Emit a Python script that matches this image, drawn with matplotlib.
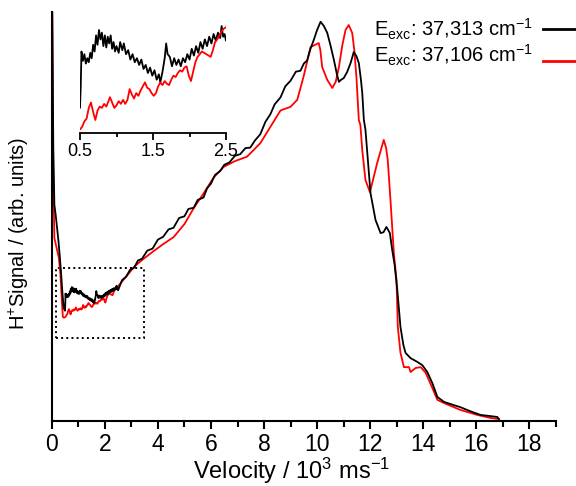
import matplotlib.pyplot as plt
from matplotlib.lines import Line2D
from matplotlib.patches import Rectangle
from matplotlib.ticker import MultipleLocator

plt.rcParams['font.family'] = ['Liberation Sans', 'DejaVu Sans']
plt.rcParams['mathtext.default'] = 'regular'

# black trace, E_exc = 37,313 cm-1
v_black = [0.02, 0.06, 0.10, 0.15, 0.20, 0.25, 0.30, 0.35, 0.40, 0.45,
           0.50, 0.51, 0.52, 0.54, 0.56, 0.58, 0.60, 0.62, 0.64, 0.66,
           0.68, 0.70, 0.72, 0.74, 0.76, 0.78, 0.80, 0.82, 0.84, 0.86,
           0.88, 0.90, 0.92, 0.94, 0.96, 0.98, 1.00, 1.03, 1.05, 1.08,
           1.10, 1.13, 1.16, 1.19, 1.22, 1.25, 1.28, 1.31, 1.34, 1.37,
           1.40, 1.43, 1.46, 1.49, 1.52, 1.55, 1.58, 1.60, 1.63, 1.66,
           1.68, 1.70, 1.73, 1.76, 1.79, 1.82, 1.85, 1.88, 1.91, 1.94,
           1.97, 2.00, 2.03, 2.06, 2.09, 2.12, 2.15, 2.18, 2.21, 2.24,
           2.27, 2.30, 2.33, 2.36, 2.39, 2.42, 2.44, 2.46, 2.48, 2.50,
           2.65, 2.8, 2.95, 3.1, 3.25, 3.4, 3.6, 3.8, 4.0, 4.2,
           4.4, 4.59, 4.8, 5.0, 5.15, 5.35, 5.5, 5.72, 5.85, 6.0,
           6.15, 6.35, 6.5, 6.7, 6.9, 7.1, 7.3, 7.48, 7.65, 7.86,
           8.05, 8.24, 8.4, 8.62, 8.8, 9.0, 9.2, 9.37, 9.5, 9.62,
           9.75, 9.87, 10.0, 10.13, 10.25, 10.38, 10.5, 10.63, 10.75, 10.82,
           10.9, 11.0, 11.13, 11.26, 11.38, 11.48, 11.57, 11.65, 11.7, 11.76,
           11.82, 11.89, 12.01, 12.2, 12.39, 12.5, 12.61, 12.74, 12.83, 12.92,
           13.02, 13.14, 13.25, 13.33, 13.52, 13.77, 13.96, 14.15, 14.34, 14.53,
           14.78, 15.15, 15.4, 15.66, 15.9, 16.16, 16.5, 16.79, 16.85]
s_black = [100.0, 66.2, 52.8, 50.3, 47.2, 44.2, 40.5, 36.4, 31.5, 27.6,
           26.9, 28.5, 31.1, 30.4, 30.9, 30.2, 30.6, 30.3, 31.0, 30.6,
           31.6, 31.1, 32.3, 31.6, 32.7, 32.0, 32.5, 31.5, 32.3, 31.4,
           32.2, 31.7, 32.3, 31.3, 31.8, 31.1, 31.5, 31.0, 31.8, 31.2,
           31.7, 30.9, 31.2, 30.5, 30.9, 30.3, 30.6, 30.1, 30.5, 29.8,
           30.1, 29.5, 29.9, 29.3, 29.7, 29.0, 29.4, 28.8, 29.6, 30.6,
           31.7, 30.9, 30.7, 30.0, 30.6, 30.1, 30.5, 30.0, 30.6, 30.3,
           30.9, 30.5, 31.3, 30.8, 31.5, 31.0, 31.8, 31.3, 32.0, 31.5,
           32.2, 31.7, 32.4, 31.9, 32.5, 32.1, 33.0, 32.2, 32.4, 31.9,
           34.4, 35.2, 36.9, 37.4, 39.2, 39.6, 41.6, 42.1, 44.3, 45.0,
           46.8, 47.2, 49.6, 50.0, 51.8, 52.1, 54.0, 54.6, 56.8, 58.0,
           60.1, 61.1, 62.6, 63.2, 64.8, 65.2, 66.7, 66.8, 68.5, 70.1,
           73.1, 75.0, 77.4, 79.1, 81.8, 83.2, 85.4, 85.6, 87.4, 88.1,
           91.0, 93.1, 95.6, 97.6, 96.6, 94.9, 91.9, 88.3, 84.6, 82.9,
           83.4, 83.8, 85.3, 87.5, 90.2, 89.2, 87.5, 83.4, 80.2, 73.6,
           71.2, 65.5, 55.7, 49.1, 45.9, 46.1, 47.4, 45.9, 41.7, 38.1,
           32.0, 22.9, 18.5, 16.6, 15.3, 14.4, 13.6, 11.9, 9.2, 5.8,
           4.6, 3.8, 3.3, 2.6, 2.0, 1.4, 1.15, 0.9, 0.4]

# red trace, E_exc = 37,106 cm-1
v_red = [0.02, 0.06, 0.10, 0.15, 0.20, 0.27, 0.33, 0.38, 0.42, 0.46,
         0.50, 0.53, 0.56, 0.59, 0.62, 0.65, 0.68, 0.71, 0.74, 0.77,
         0.80, 0.83, 0.86, 0.89, 0.91, 0.94, 0.97, 1.00, 1.03, 1.06,
         1.09, 1.12, 1.15, 1.18, 1.21, 1.24, 1.27, 1.30, 1.33, 1.36,
         1.39, 1.42, 1.45, 1.48, 1.51, 1.54, 1.57, 1.60, 1.63, 1.66,
         1.69, 1.72, 1.75, 1.78, 1.81, 1.84, 1.87, 1.90, 1.93, 1.96,
         1.99, 2.02, 2.05, 2.08, 2.11, 2.14, 2.17, 2.20, 2.23, 2.26,
         2.29, 2.32, 2.35, 2.38, 2.41, 2.44, 2.47, 2.50,
         2.8, 3.1, 3.4, 3.8, 4.2, 4.59, 5.0, 5.35, 5.72, 6.1,
         6.48, 6.9, 7.36, 7.86, 8.24, 8.62, 9.0, 9.25, 9.49, 9.75,
         10.06, 10.12, 10.19, 10.38, 10.57, 10.7, 10.82, 10.95, 11.07, 11.19,
         11.32, 11.4, 11.48, 11.57, 11.63, 11.7, 11.82, 11.99, 12.26, 12.51,
         12.6, 12.66, 12.77, 12.89, 12.99, 13.04, 13.14, 13.27, 13.46, 13.52,
         13.71, 13.9, 14.09, 14.34, 14.53, 14.78, 15.41, 16.04, 16.54, 16.85]
s_red = [100.0, 58.9, 44.7, 43.2, 41.8, 39.8, 35.6, 29.5, 25.4, 25.2,
         25.3, 25.5, 25.9, 26.1, 26.9, 27.3, 26.6, 26.0, 26.7, 27.0,
         26.9, 27.2, 27.0, 27.4, 27.7, 27.3, 26.9, 27.1, 27.4, 27.2,
         27.5, 27.2, 27.5, 28.3, 27.9, 27.6, 28.0, 27.8, 28.2, 28.5,
         28.8, 28.4, 28.3, 28.0, 27.8, 28.0, 28.5, 28.8, 28.6, 28.9,
         28.7, 28.6, 29.0, 29.3, 29.2, 29.5, 29.7, 29.6, 29.9, 30.0,
         29.3, 28.9, 29.6, 30.3, 30.7, 30.9, 31.1, 31.0, 30.9, 30.8,
         30.7, 31.2, 31.8, 32.0, 32.3, 32.6, 32.8, 32.9,
         35.2, 37.6, 39.3, 41.3, 43.2, 44.9, 48.1, 52.0, 55.6, 59.5,
         62.1, 63.5, 64.6, 67.9, 71.9, 75.9, 76.8, 78.5, 84.2, 91.4,
         92.4, 90.7, 86.5, 83.4, 81.4, 82.9, 86.5, 91.9, 95.6, 96.8,
         94.9, 90.7, 84.1, 73.6, 72.3, 66.2, 58.9, 55.9, 63.0, 68.7,
         66.7, 63.8, 53.3, 41.0, 34.4, 22.9, 16.6, 13.1, 13.1, 11.9,
         12.9, 13.1, 11.7, 8.0, 5.1, 4.3, 2.6, 1.4, 0.66, 0.4]

labels = ['E$_{exc}$: 37,313 cm$^{-1}$', 'E$_{exc}$: 37,106 cm$^{-1}$']
colors = ['black', 'red']

fig = plt.figure(figsize=(5.76, 4.86), dpi=100)
ax = fig.add_axes([0.0898, 0.1344, 0.8755, 0.841])
ax.plot(v_black, s_black, color=colors[0], lw=1.3, zorder=3)
ax.plot(v_red, s_red, color=colors[1], lw=1.3, zorder=2)
ax.add_patch(Rectangle((0.17, 20.2), 3.31, 17.2, fill=False, ls=':', lw=1.4, ec='black'))

ax.set_xlim(0, 19)
ax.set_ylim(0, 100)
ax.xaxis.set_major_locator(MultipleLocator(2))
ax.xaxis.set_minor_locator(MultipleLocator(1))
ax.set_yticks([])
ax.spines['top'].set_visible(False)
ax.spines['right'].set_visible(False)
ax.spines['left'].set_linewidth(1.5)
ax.spines['bottom'].set_linewidth(1.5)
ax.tick_params(axis='x', which='major', length=6, width=1.5, labelsize=16.5, pad=3)
ax.tick_params(axis='x', which='minor', length=4, width=1.5)
ax.set_xlabel('Velocity / 10$^3$ ms$^{-1}$', fontsize=17)
ax.xaxis.set_label_coords(0.4755, -0.087)
ax.set_ylabel('H$^{+}$Signal / (arb. units)', fontsize=14.5)
ax.yaxis.set_label_coords(-0.041, 0.457)

# legend drawn by hand: text first, line sample on the right (cut by the figure edge)
for lab, col, ytxt, yline in zip(labels, colors, [0.9239, 0.8724], [0.9403, 0.8745]):
    fig.text(0.649, ytxt, lab, fontsize=14.5, va='baseline', ha='left')
    fig.add_artist(Line2D([0.9427, 1.01], [yline, yline], color=col, lw=2,
                          transform=fig.transFigure))

# inset: zoom on the low-velocity region
axin = fig.add_axes([0.1389, 0.7263, 0.2535, 0.2222])
axin.plot(v_black, s_black, color=colors[0], lw=1.3)
axin.plot(v_red, s_red, color=colors[1], lw=1.3)
axin.set_xlim(0.5, 2.5)
axin.set_ylim(25.03, 33.07)
axin.set_xticks([0.5, 1.5, 2.5])
axin.set_xticklabels(['0.5', '1.5', '2.5'])
axin.xaxis.set_minor_locator(MultipleLocator(0.5))
axin.set_yticks([])
for side in ['top', 'right', 'left']:
    axin.spines[side].set_visible(False)
axin.spines['bottom'].set_linewidth(1.3)
axin.tick_params(axis='x', which='major', length=5, width=1.3, labelsize=13, pad=2)
axin.tick_params(axis='x', which='minor', length=3, width=1.3)
axin.patch.set_alpha(0)

fig.savefig('out.png', dpi=100)
